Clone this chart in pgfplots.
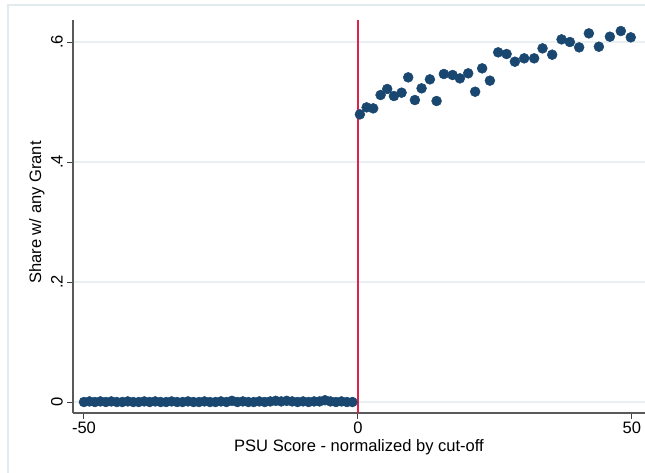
\documentclass[border=0pt]{standalone}
\usepackage{pgfplots}
\pgfplotsset{compat=1.18}
\usepackage{fontspec}
\setmainfont{Liberation Sans}
\definecolor{statanavy}{RGB}{26,71,111}
\definecolor{statared}{RGB}{222,35,75}
\definecolor{gridc}{RGB}{232,240,242}
\definecolor{framec}{RGB}{225,234,236}
\begin{document}
\begin{tikzpicture}[x=1pt,y=1pt]
\useasboundingbox (0,0) rectangle (483.75,354);
\draw[framec, line width=0.8pt] (6,-5) -- (6,350.25) -- (490,350.25);
\begin{scope}
\clip (0,0) rectangle (483.75,354);
\begin{axis}[
  at={(54.75pt,44.25pt)}, anchor=south west,
  scale only axis, width=429pt, height=294.75pt,
  xmin=-52, xmax=52.4, ymin=-0.0183, ymax=0.6367,
  axis x line*=bottom, axis y line*=left,
  axis line style={black!65, line width=0.9pt, -},
  xtick={-50,0,50}, xticklabels={-50,0,50},
  ytick={0,0.2,0.4,0.6}, yticklabels={0,.2,.4,.6},
  tick align=outside, major tick length=4.5pt,
  tick style={black!75, line width=0.7pt},
  ymajorgrids, xmajorgrids=false,
  major grid style={gridc, line width=1pt},
  font=\fontsize{12.4}{14.8}\selectfont,
  yticklabel style={rotate=90, anchor=south, inner sep=3pt},
  xticklabel style={inner sep=2pt},
  xlabel={PSU Score - normalized by cut-off},
  ylabel={Share w/ any Grant},
  xlabel style={at={(axis description cs:0.5,0)}, anchor=center, yshift=-25.5pt},
  ylabel style={at={(axis description cs:-0.063,0.51)}, anchor=center, rotate=0},
  clip=false,
]
\addplot[statared, line width=1pt] coordinates {(0,-0.0183) (0,0.6367)};
\addplot[only marks, mark=*, mark size=3.7pt, mark options={fill=statanavy, draw=statanavy}] coordinates {
(-50,0) (-49,0.001) (-48,0) (-47,0.001) (-46,0) (-45,0.001) (-44,0) (-43,0) (-42,0.001) (-41,0)
(-40,0) (-39,0.001) (-38,0) (-37,0.001) (-36,0) (-35,0) (-34,0.001) (-33,0) (-32,0) (-31,0.001)
(-30,0) (-29,0) (-28,0.001) (-27,0) (-26,0) (-25,0.001) (-24,0) (-23,0.002) (-22,0) (-21,0.001)
(-20,0) (-19,0) (-18,0.001) (-17,0) (-16,0.001) (-15,0.002) (-14,0.001) (-13,0.002) (-12,0.001) (-11,0)
(-10,0.001) (-9,0) (-8,0.001) (-7,0.001) (-6,0.003) (-5,0.001) (-4,0) (-3,0.001) (-2,0) (-1,0)
};
\addplot[only marks, mark=*, mark size=3.7pt, mark options={fill=statanavy, draw=statanavy}] coordinates {
(0.36,0.4794) (1.59,0.4911) (2.79,0.4894) (4.14,0.5117) (5.35,0.5217) (6.57,0.5100)
(7.97,0.5156) (9.18,0.5411) (10.40,0.5033) (11.62,0.5228) (13.14,0.5378) (14.36,0.5017)
(15.69,0.5467) (17.28,0.5450) (18.61,0.5394) (20.13,0.5478) (21.40,0.5172) (22.68,0.5561)
(24.09,0.5356) (25.60,0.5828) (27.14,0.5800) (28.65,0.5672) (30.35,0.5728) (32.17,0.5728)
(33.70,0.5894) (35.46,0.5789) (37.17,0.6044) (38.69,0.6000) (40.38,0.5911) (42.15,0.6144)
(43.98,0.5922) (45.99,0.6089) (47.99,0.6183) (49.80,0.6078)
};
\end{axis}
\end{scope}
\end{tikzpicture}
\end{document}
